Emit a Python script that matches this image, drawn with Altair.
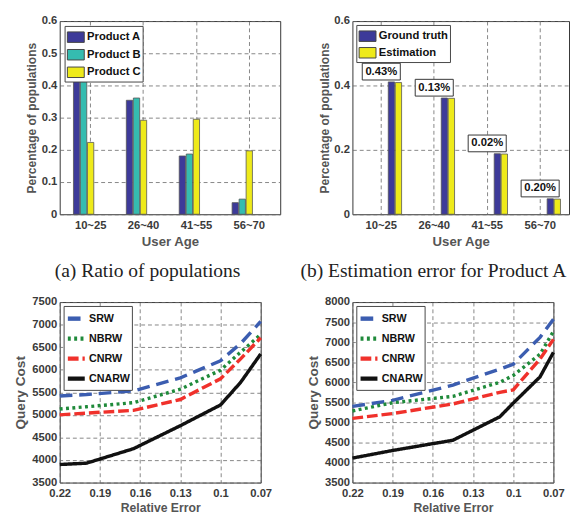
import altair as alt
import pandas as pd

# ---------------- data ----------------
ages = ["10~25", "26~40", "41~55", "56~70"]
products = ["Product A", "Product B", "Product C"]
product_a = [0.435, 0.354, 0.181, 0.036]
product_b = [0.412, 0.361, 0.187, 0.047]
product_c = [0.223, 0.292, 0.295, 0.197]

series_b = ["Ground truth", "Estimation"]
ground_truth = [0.411, 0.361, 0.188, 0.048]
estimation = [0.409, 0.360, 0.187, 0.047]
est_error = ["0.43%", "0.13%", "0.02%", "0.20%"]

methods = ["SRW", "NBRW", "CNRW", "CNARW"]

err_a = [0.22, 0.2, 0.165, 0.13, 0.1, 0.085, 0.07]
srw_a = [5420, 5450, 5530, 5820, 6200, 6580, 7070]
nbrw_a = [5130, 5180, 5270, 5570, 5990, 6390, 6780]
cnrw_a = [5000, 5040, 5100, 5340, 5800, 6240, 6710]
cnarw_a = [3900, 3930, 4250, 4760, 5220, 5720, 6350]

err_b = [0.22, 0.19, 0.145, 0.11, 0.1, 0.08, 0.07]
srw_b = [5400, 5550, 5930, 6330, 6450, 7120, 7570]
nbrw_b = [5285, 5490, 5650, 6000, 6170, 6700, 7270]
cnrw_b = [5100, 5220, 5460, 5750, 5810, 6580, 7070]
cnarw_b = [4110, 4300, 4555, 5140, 5480, 6135, 6745]

err_ticks = [0.22, 0.19, 0.16, 0.13, 0.1, 0.07]

# ---------------- styles ----------------
FONT = "Liberation Sans"
SERIF = "Liberation Serif"
TXT = "#3a3a3a"
GRID = "#666666"

bar_colors = ["#3d3a99", "#35bcb0", "#eeea1a"]
line_colors = ["#3b5db0", "#1f8a3a", "#f0312b", "#111111"]
line_dashes = [[13, 7], [3, 3.5], [11, 4], [1, 0]]


def legend(**kw):
    base = dict(title=None, orient="top-left", fillColor="white",
                strokeColor="#444", padding=2, labelFont=FONT,
                labelFontWeight="bold", labelFontSize=11.5, labelColor="#111",
                rowPadding=0, labelOffset=2)
    base.update(kw)
    return alt.Legend(**base)


def band_axis():
    return alt.Axis(labelAngle=0, bandPosition=0.5, grid=True, ticks=False,
                    domain=False, labelPadding=6, titlePadding=4,
                    titleFontSize=13.5)


def pct_axis():
    return alt.Axis(values=[0, 0.1, 0.2, 0.3, 0.4, 0.5, 0.6],
                    format=".1~f", ticks=False, domain=False,
                    labelPadding=3, titlePadding=3, titleFontSize=12.3)


# ---------------- (top-left) ratio of populations ----------------
dfa = pd.DataFrame({
    "age": ages * 3,
    "product": [p for p in products for _ in ages],
    "value": product_a + product_b + product_c,
})

tl = alt.Chart(dfa).mark_bar(stroke="#555", strokeWidth=0.8).encode(
    x=alt.X("age:N", sort=ages, title="User Age",
            scale=alt.Scale(paddingInner=0.35, paddingOuter=0.26),
            axis=band_axis()),
    xOffset=alt.XOffset("product:N",
                        scale=alt.Scale(domain=products, range=[0, 35.2],
                                        paddingInner=0.1, paddingOuter=0)),
    y=alt.Y("value:Q", title="Percentage of populations",
            scale=alt.Scale(domain=[0, 0.6], nice=False), axis=pct_axis()),
    color=alt.Color("product:N",
                    scale=alt.Scale(domain=products, range=bar_colors),
                    legend=legend(offset=5, rowPadding=1,
                                  symbolType="M-1,-0.62H1V0.62H-1Z",
                                  symbolSize=300, symbolStrokeColor="#444",
                                  symbolStrokeWidth=1, symbolOpacity=1)),
).properties(width=226, height=198)

# ---------------- (top-right) estimation error ----------------
dfb = pd.DataFrame({
    "age": ages * 2,
    "series": [s for s in series_b for _ in ages],
    "value": ground_truth + estimation,
})
dfe = pd.DataFrame({"age": ages, "gt": ground_truth, "label": est_error})

xb = alt.X("age:N", sort=ages, title="User Age",
           scale=alt.Scale(paddingInner=0.47, paddingOuter=0.28),
           axis=band_axis())

tr_bars = alt.Chart(dfb).mark_bar(stroke="#555", strokeWidth=0.8).encode(
    x=xb,
    xOffset=alt.XOffset("series:N",
                        scale=alt.Scale(domain=series_b, range=[0, 28.8],
                                        paddingInner=0.08, paddingOuter=0)),
    y=alt.Y("value:Q", title="Percentage of populations",
            scale=alt.Scale(domain=[0, 0.6], nice=False), axis=pct_axis()),
    color=alt.Color("series:N",
                    scale=alt.Scale(domain=series_b,
                                    range=[bar_colors[0], bar_colors[2]]),
                    legend=legend(offset=4,
                                  symbolType="M-1,-0.62H1V0.62H-1Z",
                                  symbolSize=300, symbolStrokeColor="#444",
                                  symbolStrokeWidth=1, symbolOpacity=1)),
)

tr_box = alt.Chart(dfe).transform_calculate(
    lo="datum.gt + 0.006", hi="datum.gt + 0.058"
).mark_bar(width=39, fill="white", stroke="#333", strokeWidth=1).encode(
    x=xb, y=alt.Y("lo:Q"), y2="hi:Q"
)

tr_txt = alt.Chart(dfe).transform_calculate(
    mid="datum.gt + 0.032"
).mark_text(font=FONT, fontWeight="bold", fontSize=11.5, color="#111",
            baseline="middle").encode(
    x=xb, y=alt.Y("mid:Q"), text="label:N"
)

tr = alt.layer(tr_bars, tr_box, tr_txt).properties(width=222, height=198)


# ---------------- bottom line charts ----------------
def long_lines(errs, ys):
    rows = []
    for m, vals in zip(methods, ys):
        for e, v in zip(errs, vals):
            rows.append({"err": e, "cost": v, "method": m})
    return pd.DataFrame(rows)


def line_chart(df, ymax, width, height, caption, cap_dx):
    leg = legend(offset=4, symbolType="stroke", symbolSize=300,
                 symbolStrokeWidth=4.5, rowPadding=0.5, labelFontSize=11)
    return alt.Chart(df).mark_line(strokeWidth=3.5, strokeCap="butt").encode(
        x=alt.X("err:Q", title="Relative Error",
                scale=alt.Scale(domain=[0.07, 0.22], reverse=True, nice=False,
                                zero=False),
                axis=alt.Axis(values=err_ticks, format=".2~f", grid=True,
                              ticks=False, domain=False, labelPadding=5,
                              labelFlush=False, labelOverlap=False,
                              titlePadding=3, titleFontSize=12.5)),
        y=alt.Y("cost:Q", title="Query Cost",
                scale=alt.Scale(domain=[3500, ymax], nice=False, zero=False),
                axis=alt.Axis(values=list(range(3500, ymax + 1, 500)),
                              format="d", ticks=False, domain=False,
                              labelPadding=3, titlePadding=4,
                              titleFontSize=14)),
        color=alt.Color("method:N",
                        scale=alt.Scale(domain=methods, range=line_colors),
                        legend=leg),
        strokeDash=alt.StrokeDash("method:N",
                                  scale=alt.Scale(domain=methods,
                                                  range=line_dashes),
                                  legend=leg),
    ).properties(
        width=width, height=height,
        title=alt.TitleParams(caption, font=SERIF, fontSize=20,
                              fontWeight="normal", color="#222",
                              offset=16, dx=cap_dx, anchor="middle",
                              frame="group"),
    )


bl = line_chart(long_lines(err_a, [srw_a, nbrw_a, cnrw_a, cnarw_a]),
                7500, 206, 185, "(a)  Ratio of populations", -13)
br = line_chart(long_lines(err_b, [srw_b, nbrw_b, cnrw_b, cnarw_b]),
                8000, 206, 185, "(b)  Estimation error for Product A", -20)

left_col = alt.vconcat(tl, bl, spacing=11).resolve_scale(
    color="independent", strokeDash="independent").resolve_legend(
    color="independent", strokeDash="independent")
right_col = alt.vconcat(tr, br, spacing=11).resolve_scale(
    color="independent", strokeDash="independent").resolve_legend(
    color="independent", strokeDash="independent")

chart = alt.hconcat(left_col, right_col, spacing=16).resolve_scale(
    color="independent", strokeDash="independent").resolve_legend(
    color="independent", strokeDash="independent").properties(
    padding={"left": 5, "top": 0, "right": 0, "bottom": 0}
).configure_view(
    stroke="#333", strokeWidth=1
).configure_axis(
    labelFont=FONT, labelFontWeight="bold", labelFontSize=11.5,
    labelColor=TXT, titleFont=FONT, titleFontWeight="bold",
    titleColor="#555",
    gridColor=GRID, gridDash=[4, 3], gridWidth=0.8, gridOpacity=1,
).configure_legend(
    symbolLimit=0
)

chart.save("out.html", embed_options={"renderer": "svg", "actions": False})
